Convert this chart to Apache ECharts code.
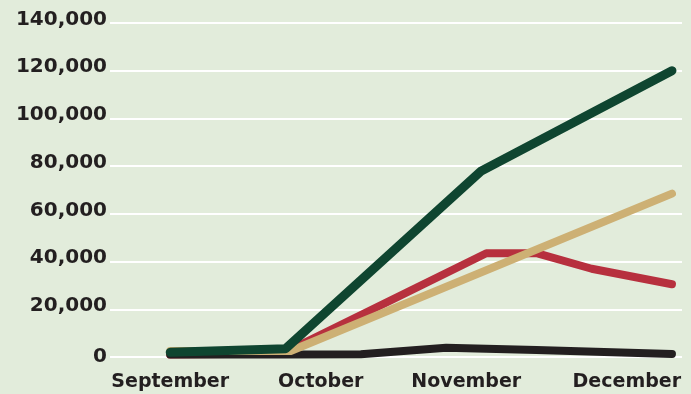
<!DOCTYPE html>
<html>
<head>
<meta charset="utf-8">
<script src="https://cdn.jsdelivr.net/npm/echarts@6/dist/echarts.min.js"></script>
<style>
html,body{margin:0;padding:0;background:#e2ecdb;}
#c{width:691px;height:394px;}
</style>
</head>
<body>
<div id="c"></div>
<script>
// x values are days since 1 September
const monthLabels = ['September', 'October', 'November', 'December'];
const monthLabelDays = [0, 30, 59, 91];
const yTicks = [0, 20000, 40000, 60000, 80000, 100000, 120000, 140000];

const greenDays = [0, 23, 62, 100];
const greenVals = [2000, 3500, 78000, 120000];

const tanDays = [0, 24, 100];
const tanVals = [2500, 2500, 68500];

const redDays = [0, 22.5, 63, 73, 84, 100];
const redVals = [1000, 1500, 43500, 43500, 37000, 30500];

const blackDays = [0, 22.5, 38, 55, 73, 100];
const blackVals = [1000, 1100, 1200, 3900, 2900, 1300];

const pair = (xs, ys) => xs.map((x, i) => [x, ys[i]]);

const chart = echarts.init(document.getElementById('c'));
const lineSeries = (name, xs, ys, color, width, z) => ({
  name, type: 'line', data: pair(xs, ys), showSymbol: false, symbol: 'none',
  z, lineStyle: { color, width, cap: 'round', join: 'round' }, silent: true
});

chart.setOption({
  backgroundColor: '#e2ecdb',
  animation: false,
  grid: { left: 110, right: 9, top: 23, bottom: 37 },
  xAxis: {
    type: 'value', min: -12, max: 102,
    splitLine: { show: false }, axisLine: { show: false }, axisTick: { show: false },
    axisLabel: {
      customValues: monthLabelDays,
      formatter: v => monthLabels[monthLabelDays.indexOf(v)] || '',
      color: '#231f20', fontFamily: 'DejaVu Sans', fontWeight: 'bold', fontSize: 19,
      margin: 16, showMinLabel: true, showMaxLabel: true
    }
  },
  yAxis: {
    type: 'value', min: 0, max: 140000, interval: 20000,
    axisLine: { show: false }, axisTick: { show: false },
    splitLine: { lineStyle: { color: '#ffffff', width: 2 } },
    axisLabel: {
      margin: 3,
      formatter: v => v === 0 ? '{z|0}' : '{n|' + v.toLocaleString('en-US') + '}',
      rich: {
        n: { color: '#231f20', fontFamily: 'DejaVu Sans', fontWeight: 'bold', fontSize: 20, padding: [0, 0, 7, 0] },
        z: { color: '#231f20', fontFamily: 'DejaVu Sans', fontWeight: 'bold', fontSize: 20 }
      }
    }
  },
  series: [
    lineSeries('Red', redDays, redVals, '#b7303e', 8, 2),
    lineSeries('Black', blackDays, blackVals, '#231f20', 8, 3),
    lineSeries('Tan', tanDays, tanVals, '#cdb074', 8, 4),
    lineSeries('Green', greenDays, greenVals, '#0f4530', 9, 5)
  ]
});
</script>
</body>
</html>
